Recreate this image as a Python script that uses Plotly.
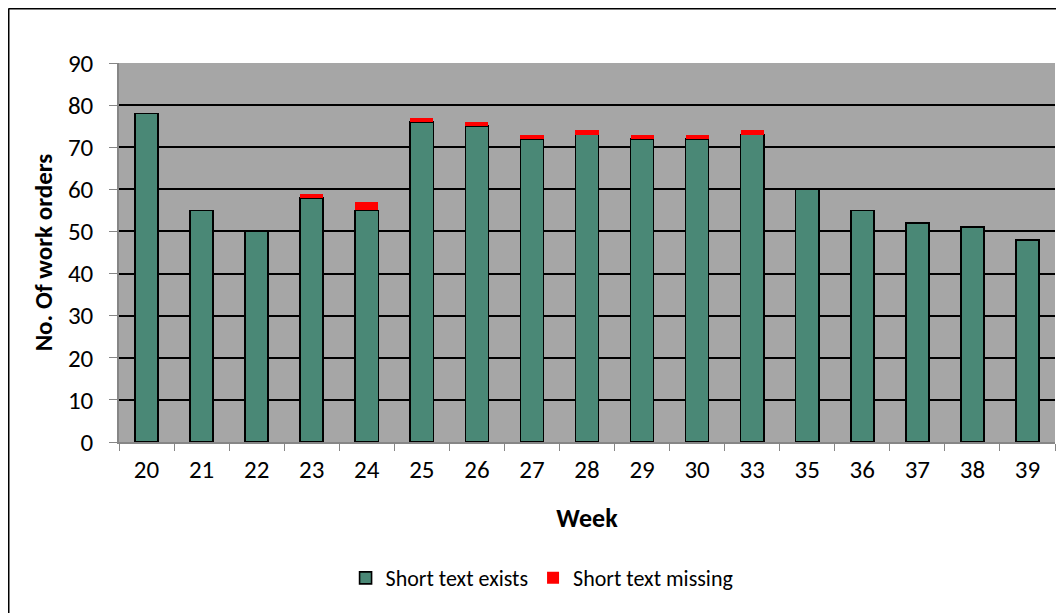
import plotly.graph_objects as go

weeks = ["20", "21", "22", "23", "24", "25", "26", "27", "28", "29", "30", "33", "35", "36", "37", "38", "39"]
short_text_exists = [78, 55, 50, 58, 55, 76, 75, 72, 73, 72, 72, 73, 60, 55, 52, 51, 48]
short_text_missing = [0, 0, 0, 1, 2, 1, 1, 1, 1, 1, 1, 1, 0, 0, 0, 0, 0]
y_ticks = [0, 10, 20, 30, 40, 50, 60, 70, 80, 90]

FONT = "Carlito, Calibri, Lato, 'Liberation Sans', sans-serif"

fig = go.Figure()
fig.add_trace(go.Bar(
    x=weeks, y=short_text_exists, name="Short text exists",
    marker=dict(color="#4A8876", line=dict(color="black", width=1.6)),
))
fig.add_trace(go.Bar(
    x=weeks, y=short_text_missing, name="Short text missing",
    marker=dict(color="#FF0000", line=dict(color="#FF0000", width=0)),
))

# page has an 8px body offset; margins compensate
L, T = 111, 55
W, H = 1064, 613
pw, ph = 936, 379
R = W - L - pw
B = H - T - ph

fig.update_layout(
    width=W, height=H,
    barmode="stack", bargap=0.58,
    paper_bgcolor="white", plot_bgcolor="#A6A6A6",
    margin=dict(l=L, r=R, t=T, b=B, pad=0),
    font=dict(family=FONT, size=24, color="black"),
    showlegend=True,
    legend=dict(orientation="h", x=0.452, xanchor="center", y=-0.359, yanchor="middle",
                font=dict(size=22, family=FONT), traceorder="normal",
                itemwidth=30, bgcolor="rgba(0,0,0,0)"),
    xaxis=dict(
        type="category", tickson="boundaries", ticks="outside", ticklen=7,
        tickcolor="#868686", showline=True, linecolor="#868686", linewidth=1.5,
        showgrid=False, tickfont=dict(size=25), ticklabelstandoff=4,
        title=dict(text="<b>Week</b>", font=dict(size=26), standoff=25),
    ),
    yaxis=dict(
        range=[0, 90], tickvals=y_ticks, ticks="outside", ticklen=8,
        tickcolor="#868686", showline=True, linecolor="#868686", linewidth=1.5,
        showgrid=True, gridcolor="black", gridwidth=1.8, zeroline=False,
        tickfont=dict(size=25), ticklabelstandoff=11,
        title=dict(text="<b>No. Of work orders</b>", font=dict(size=25), standoff=8),
    ),
    hovermode=False,
)

# outer chart border (left and top edges visible)
x_left = (0.5 - L) / pw
y_top = 1 + (T - 0.5) / ph
fig.add_shape(type="line", xref="paper", yref="paper", x0=x_left, x1=x_left,
              y0=y_top, y1=-2, line=dict(color="black", width=2))
fig.add_shape(type="line", xref="paper", yref="paper", x0=x_left, x1=2,
              y0=y_top, y1=y_top, line=dict(color="black", width=2))

fig.write_html("out.html")
